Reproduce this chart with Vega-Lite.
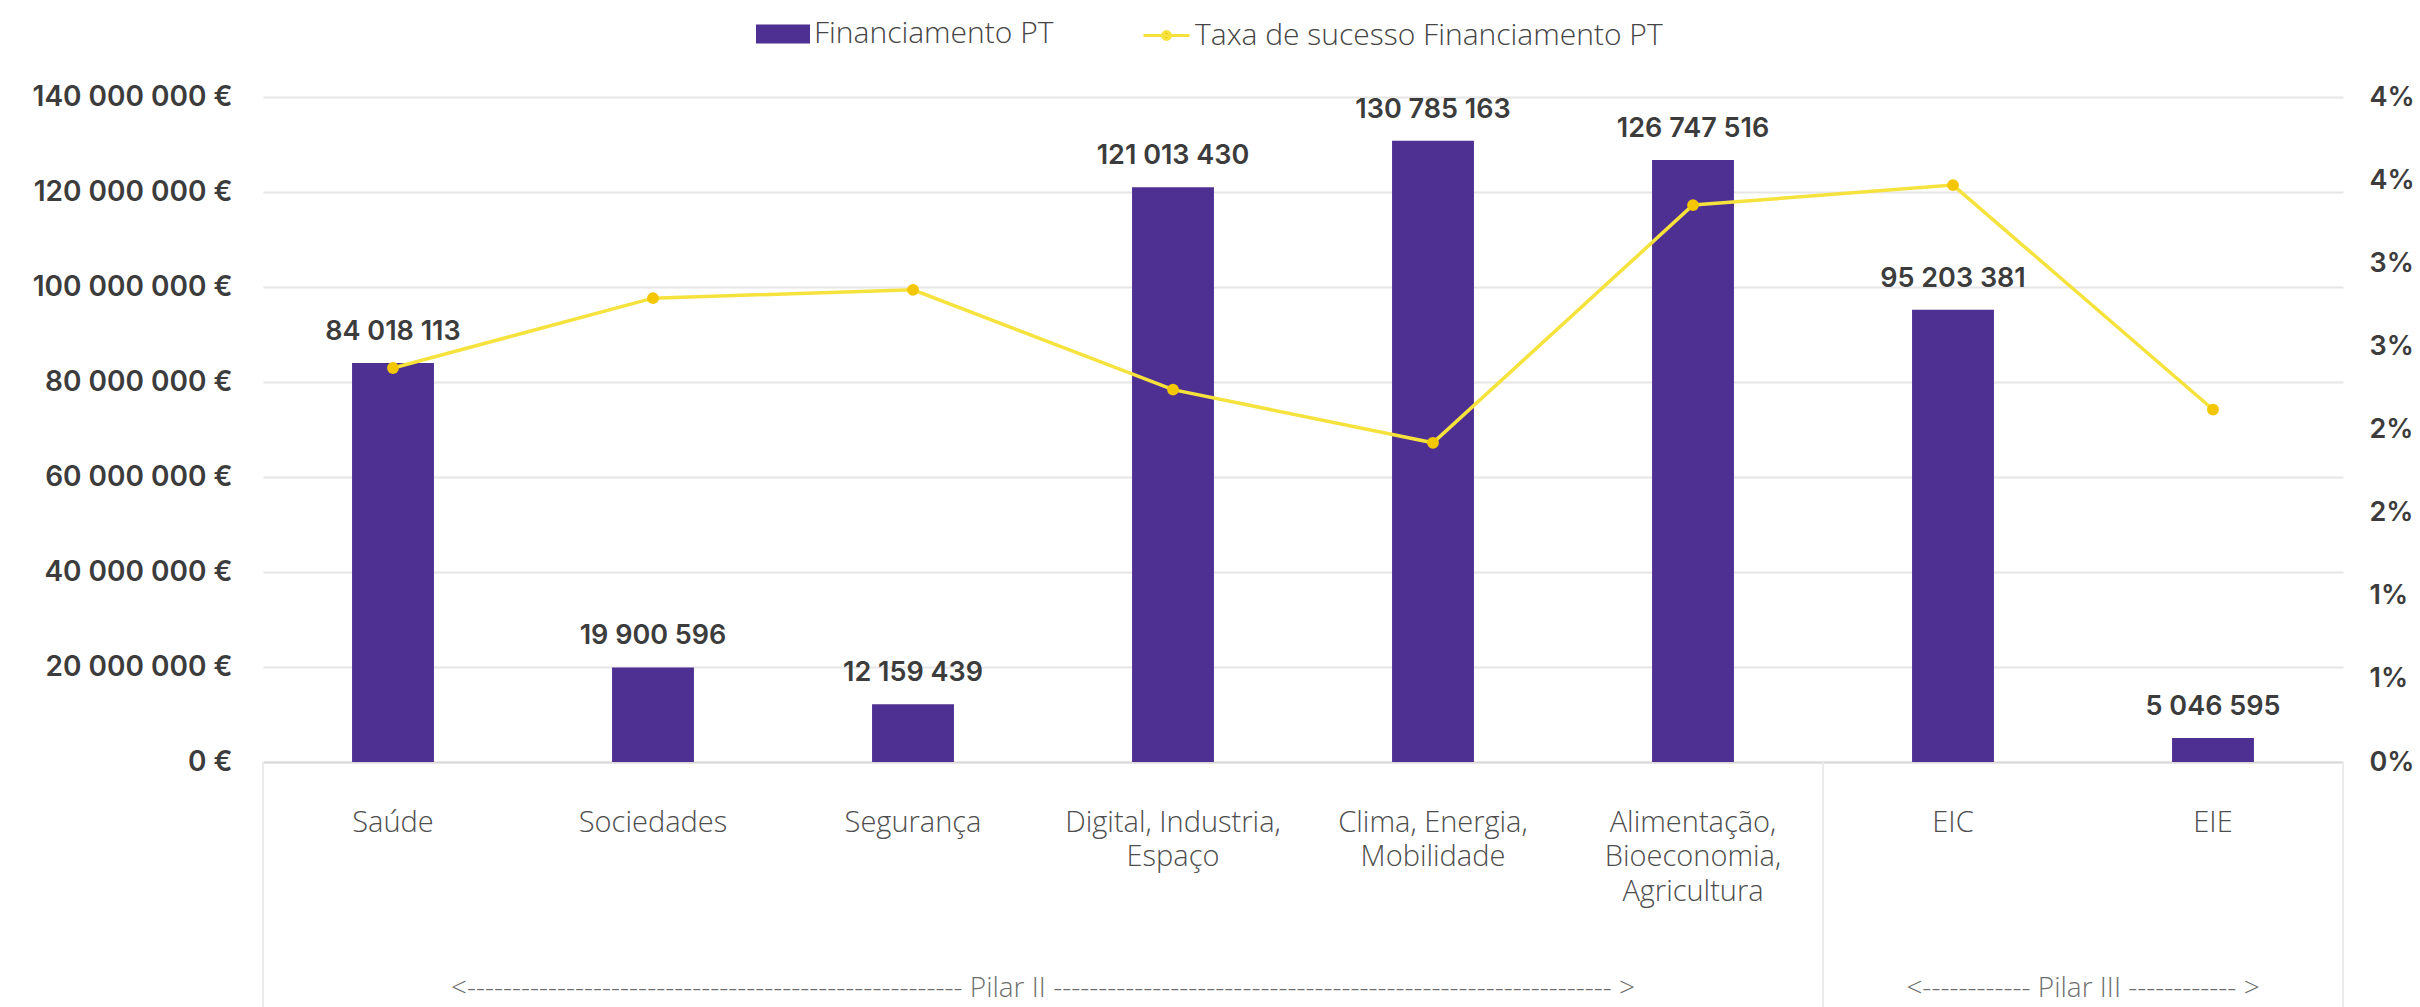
{
  "$schema": "https://vega.github.io/schema/vega-lite/v6.json",
  "width": 2080,
  "height": 665,
  "autosize": {"type": "none"},
  "padding": {"left": 263, "top": 97, "right": 77, "bottom": 245},
  "background": "white",
  "config": {
    "view": {"stroke": null},
    "locale": {"number": {"decimal": ",", "thousands": " ", "grouping": [3], "currency": ["", " €"]}}
  },
  "datasets": {
    "main": [
      {"cat": "Saúde", "valor": 84018113, "taxa": 0.0237},
      {"cat": "Sociedades", "valor": 19900596, "taxa": 0.0279},
      {"cat": "Segurança", "valor": 12159439, "taxa": 0.0284},
      {"cat": "Digital, Industria, Espaço", "valor": 121013430, "taxa": 0.0224},
      {"cat": "Clima, Energia, Mobilidade", "valor": 130785163, "taxa": 0.0192},
      {"cat": "Alimentação, Bioeconomia, Agricultura", "valor": 126747516, "taxa": 0.0335},
      {"cat": "EIC", "valor": 95203381, "taxa": 0.0347},
      {"cat": "EIE", "valor": 5046595, "taxa": 0.0212}
    ],
    "grupos": [
      {"anchor": "Digital, Industria, Espaço", "txt": "<------------------------------------------------------- Pilar II -------------------------------------------------------------- >"},
      {"anchor": "EIE", "txt": "<------------ Pilar III ------------ >"}
    ],
    "sepL": [{"anchor": "Saúde"}, {"anchor": "EIC"}],
    "sepR": [{"anchor": "EIE"}]
  },
  "layer": [
    {
      "layer": [
        {
          "data": {"name": "sepL"},
          "mark": {"type": "rule", "color": "#EBEBEB", "strokeWidth": 2},
          "encoding": {
            "x": {"field": "anchor", "type": "nominal", "bandPosition": 0},
            "y": {"datum": 0, "type": "quantitative"},
            "y2": {"datum": -60000000}
          }
        },
        {
          "data": {"name": "sepR"},
          "mark": {"type": "rule", "color": "#EBEBEB", "strokeWidth": 2},
          "encoding": {
            "x": {"field": "anchor", "type": "nominal", "bandPosition": 1},
            "y": {"datum": 0, "type": "quantitative"},
            "y2": {"datum": -60000000}
          }
        },
        {
          "data": {"name": "main"},
          "mark": {"type": "bar", "width": {"band": 0.315}},
          "encoding": {
            "x": {
              "field": "cat", "type": "nominal", "title": null,
              "scale": {
                "domain": ["Saúde", "Sociedades", "Segurança", "Digital, Industria, Espaço", "Clima, Energia, Mobilidade", "Alimentação, Bioeconomia, Agricultura", "EIC", "EIE"],
                "paddingInner": 0, "paddingOuter": 0
              },
              "axis": {
                "labelAngle": 0,
                "labelAlign": "center",
                "bandPosition": 0.5,
                "labelExpr": "datum.value == 'Digital, Industria, Espaço' ? ['Digital, Industria,', 'Espaço'] : datum.value == 'Clima, Energia, Mobilidade' ? ['Clima, Energia,', 'Mobilidade'] : datum.value == 'Alimentação, Bioeconomia, Agricultura' ? ['Alimentação,', 'Bioeconomia,', 'Agricultura'] : datum.value",
                "labelPadding": 60,
                "labelLineHeight": 34.5,
                "labelFont": "Open Sans",
                "labelFontWeight": 300,
                "labelFontSize": 29,
                "labelColor": "#4D4D4D",
                "labelLimit": 500,
                "labelOverlap": false,
                "ticks": false,
                "domainColor": "#D9D9D9",
                "domainWidth": 2
              }
            },
            "y": {
              "field": "valor", "type": "quantitative", "title": null,
              "scale": {"domain": [0, 140000000], "nice": false},
              "axis": {
                "values": [0, 20000000, 40000000, 60000000, 80000000, 100000000, 120000000, 140000000],
                "format": "$,.0f",
                "labelFont": "Inter",
                "labelFontWeight": 600,
                "labelFontSize": 28,
                "labelLimit": 400,
                "labelColor": "#3C3C3C",
                "labelPadding": 31,
                "ticks": false,
                "domain": false,
                "grid": true,
                "gridColor": "#E6E6E6",
                "gridWidth": 2
              }
            },
            "fill": {
              "datum": "Financiamento PT", "type": "nominal",
              "scale": {"range": ["#4E2F92"]},
              "legend": {
                "orient": "none", "legendX": 493, "legendY": -90, "title": null, "padding": 0,
                "symbolType": "M-1,-0.35H1V0.35H-1Z", "symbolSize": 2916, "symbolStrokeWidth": 0,
                "labelFont": "Open Sans", "labelFontSize": 30, "labelFontWeight": 300, "labelColor": "#444444",
                "labelOffset": 4, "labelLimit": 700
              }
            }
          }
        },
        {
          "data": {"name": "main"},
          "mark": {"type": "text", "font": "Inter", "fontWeight": 600, "fontSize": 27, "color": "#3C3C3C", "baseline": "middle", "dy": -31},
          "encoding": {
            "x": {"field": "cat", "type": "nominal"},
            "y": {"field": "valor", "type": "quantitative"},
            "text": {"field": "valor", "type": "quantitative", "format": ",.0f"}
          }
        },
        {
          "data": {"name": "grupos"},
          "mark": {"type": "text", "font": "Open Sans", "fontWeight": 300, "fontSize": 28, "color": "#6E6E6E", "baseline": "middle"},
          "encoding": {
            "x": {"field": "anchor", "type": "nominal", "bandPosition": 0},
            "y": {"datum": -47800000, "type": "quantitative"},
            "text": {"field": "txt"}
          }
        }
      ]
    },
    {
      "data": {"name": "main"},
      "layer": [
        {
          "mark": {"type": "line", "strokeWidth": 3.5},
          "encoding": {
            "x": {"field": "cat", "type": "nominal"},
            "y": {
              "field": "taxa", "type": "quantitative", "title": null,
              "scale": {"domain": [0, 0.04], "nice": false},
              "axis": {
                "orient": "right",
                "values": [0, 0.005, 0.01, 0.015, 0.02, 0.025, 0.03, 0.035, 0.04],
                "labelExpr": "round(datum.value * 100 + 0.01) + '%'",
                "labelFont": "Inter",
                "labelFontWeight": 600,
                "labelFontSize": 27,
                "labelColor": "#3C3C3C",
                "labelPadding": 26,
                "ticks": false,
                "domain": false,
                "grid": false
              }
            },
            "stroke": {
              "datum": "Taxa de sucesso Financiamento PT", "type": "nominal",
              "scale": {"range": ["#F6E23C"]},
              "legend": {
                "orient": "none", "legendX": 879, "legendY": -86, "title": null, "padding": 0,
                "symbolType": "M-1,0H1M0.17,0A0.17,0.17,0,1,1,-0.17,0A0.17,0.17,0,1,1,0.17,0",
                "symbolSize": 2116, "symbolStrokeWidth": 3, "symbolFillColor": "#F3C600",
                "labelFont": "Open Sans", "labelFontSize": 30, "labelFontWeight": 300, "labelColor": "#444444",
                "labelOffset": 4, "labelLimit": 700
              }
            }
          }
        },
        {
          "mark": {"type": "circle", "color": "#F3C600", "size": 140, "opacity": 1},
          "encoding": {
            "x": {"field": "cat", "type": "nominal"},
            "y": {"field": "taxa", "type": "quantitative"}
          }
        }
      ]
    }
  ],
  "resolve": {"scale": {"y": "independent"}}
}
